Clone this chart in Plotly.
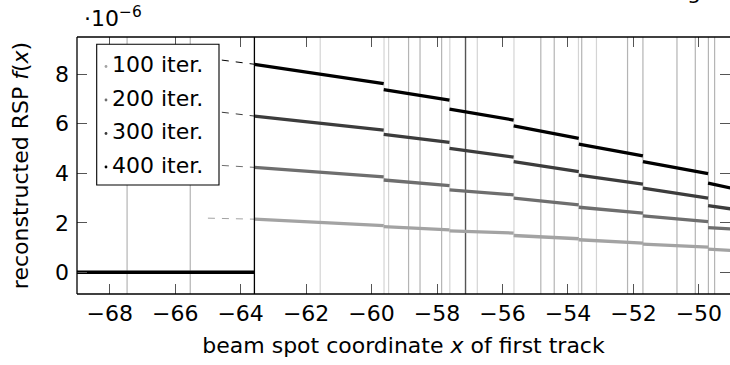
import plotly.graph_objects as go

# ---------------- data (RSP values in units of 1e-6) ----------------
x_left = -69.0
seg_edges = [-63.58, -59.63, -57.62, -55.66, -53.67, -51.71, -49.72, -49.0]
series_names = ["100 iter.", "200 iter.", "300 iter.", "400 iter."]
start_100 = [2.15, 1.85, 1.68, 1.49, 1.32, 1.14, 0.94]
end_100 = [1.89, 1.72, 1.59, 1.36, 1.18, 1.02, 0.89]
start_200 = [4.24, 3.73, 3.33, 3.00, 2.63, 2.28, 1.81]
end_200 = [3.86, 3.50, 3.13, 2.73, 2.39, 2.05, 1.75]
start_300 = [6.31, 5.57, 5.01, 4.47, 3.93, 3.40, 2.70]
end_300 = [5.74, 5.25, 4.65, 4.07, 3.56, 3.00, 2.56]
start_400 = [8.40, 7.38, 6.59, 5.91, 5.18, 4.47, 3.60]
end_400 = [7.62, 6.95, 6.15, 5.41, 4.70, 3.99, 3.40]
dash_x = [-65.0, -63.58]
dash_y0 = [2.19, 4.35, 6.53, 8.64]
grid_light = [-61.57, -59.62, -59.48, -57.61, -56.77, -55.65, -53.68, -53.13]
grid_mid = [-67.47, -65.54, -58.87, -58.52, -57.86, -54.83, -54.42, -53.58,
            -52.18, -51.71, -50.67, -50.11, -49.71, -49.52]
edge_x = -63.58
mark_x = -57.13
x_ticks = [-68, -66, -64, -62, -60, -58, -56, -54, -52, -50]
y_ticks = [0, 2, 4, 6, 8]

starts = [start_100, start_200, start_300, start_400]
ends = [end_100, end_200, end_300, end_400]

# ---------------- style ----------------
colors = ["#a3a3a3", "#6e6e6e", "#3c3c3c", "#000000"]
FONT = "DejaVu Sans"
FS = 22
W, H = 730, 365
ML, MR, MT, MB = 77, 0, 37, 71
PW, PH = W - ML - MR, H - MT - MB


def px(xp):
    return (xp - ML) / PW


def py(yp):
    return (H - MB - yp) / PH


fig = go.Figure()

# series
for idx, (name, st, en, col) in enumerate(zip(series_names, starts, ends, colors)):
    xs = [x_left, seg_edges[0], None]
    ys = [0, 0, None]
    for i in range(len(st)):
        xs += [seg_edges[i], seg_edges[i + 1], None]
        ys += [st[i], en[i], None]
    fig.add_trace(go.Scatter(x=xs, y=ys, mode="lines", name=name,
                             line=dict(color=col, width=3.3),
                             connectgaps=False, showlegend=False))
    fig.add_trace(go.Scatter(x=dash_x, y=[dash_y0[idx], st[0]], mode="lines",
                             line=dict(color=col, width=1, dash="7px,7px"),
                             showlegend=False, hoverinfo="skip"))

shapes = []
for gx in grid_light:
    shapes.append(dict(type="line", xref="x", yref="paper", x0=gx, x1=gx, y0=0, y1=1,
                       line=dict(color="#d4d4d4", width=1.2), layer="below"))
for gx in grid_mid:
    shapes.append(dict(type="line", xref="x", yref="paper", x0=gx, x1=gx, y0=0, y1=1,
                       line=dict(color="#b4b4b4", width=1.2), layer="below"))
shapes.append(dict(type="line", xref="x", yref="paper", x0=mark_x, x1=mark_x, y0=0, y1=1,
                   line=dict(color="#555555", width=1.4), layer="below"))
shapes.append(dict(type="line", xref="x", yref="paper", x0=edge_x, x1=edge_x, y0=0, y1=1,
                   line=dict(color="#000000", width=1.3)))
# frame (left, bottom, top)
for (x0, y0, x1, y1) in [(0, 0, 0, 1), (0, 0, 1.01, 0), (0, 1, 1.01, 1)]:
    shapes.append(dict(type="line", xref="paper", yref="paper", x0=x0, y0=y0, x1=x1, y1=y1,
                       line=dict(color="#000000", width=1.3)))

# legend box
shapes.append(dict(type="rect", xref="paper", yref="paper",
                   x0=px(96.7), x1=px(219), y0=py(185), y1=py(44.3),
                   fillcolor="white", line=dict(color="#000000", width=1.1)))

annotations = []
leg_y = [64.5, 98, 131.5, 165]
for name, col, ly in zip(series_names, colors, leg_y):
    shapes.append(dict(type="circle", xref="paper", yref="paper",
                       xsizemode="pixel", ysizemode="pixel",
                       xanchor=px(106), yanchor=py(ly + 2),
                       x0=-1.4, x1=1.4, y0=-1.4, y1=1.4,
                       fillcolor=col, line=dict(width=0)))
    annotations.append(dict(text=name, xref="paper", yref="paper", x=px(109.5), y=py(ly),
                            xanchor="left", yanchor="middle", showarrow=False,
                            font=dict(family=FONT, size=FS, color="black")))

annotations.append(dict(text="·10<sup>−6</sup>", xref="paper", yref="paper",
                        x=px(82), y=py(33), xanchor="left", yanchor="bottom",
                        showarrow=False, font=dict(family=FONT, size=FS, color="black")))
annotations.append(dict(text="g", xref="paper", yref="paper",
                        x=px(685), y=py(6), xanchor="left", yanchor="bottom",
                        showarrow=False, font=dict(family=FONT, size=FS, color="black")))

fig.update_layout(
    width=W, height=H,
    margin=dict(l=ML, r=MR, t=MT, b=MB, pad=0),
    paper_bgcolor="white", plot_bgcolor="white",
    font=dict(family=FONT, size=FS, color="black"),
    shapes=shapes, annotations=annotations,
    xaxis=dict(range=[-69, -49.05], tickvals=x_ticks, showgrid=False, zeroline=False,
               showline=False, mirror="ticks", ticks="inside", ticklen=10,
               tickcolor="#555555", tickwidth=1, ticklabelstandoff=4,
               tickfont=dict(family=FONT, size=FS),
               title=dict(text="beam spot coordinate <i>x</i> of first track",
                          font=dict(family=FONT, size=FS), standoff=12)),
    yaxis=dict(range=[-0.87, 9.5], tickvals=y_ticks, showgrid=False, zeroline=False,
               showline=False, mirror="ticks", ticks="inside", ticklen=10,
               tickcolor="#555555", tickwidth=1, ticklabelstandoff=7,
               tickfont=dict(family=FONT, size=FS),
               title=dict(text="reconstructed RSP <i>f</i>(<i>x</i>)",
                          font=dict(family=FONT, size=FS), standoff=20)),
)

fig.write_html("out.html")
